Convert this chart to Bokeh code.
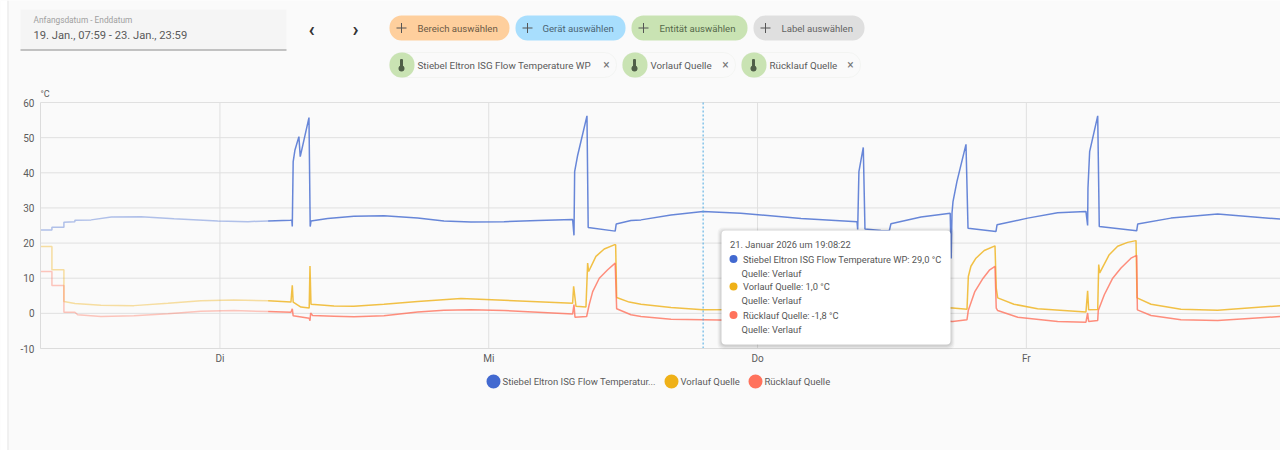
from bokeh.plotting import figure
from bokeh.embed import file_html
from bokeh.resources import INLINE
from bokeh.models import Range1d, FixedTicker, BoxAnnotation, Label

# ---------- data: hours relative to Tue 20 Jan 00:00, values in deg C ----------
series_names = ["Stiebel Eltron ISG Flow Temperature WP", "Vorlauf Quelle", "Rücklauf Quelle"]
series_colors = ["#4269d0", "#efb118", "#ff725c"]
history_start = 4.3   # earlier data are faded long-term statistics

blue_t = [-16.0,-15.0,-15.0,-13.93,-13.93,-12.95,-12.95,-11.5,-9.7,-7.05,-4.1,-0.2,2.5,4.3,6.3,6.42,6.46,6.54,6.7,7.05,7.17,7.95,8.06,8.13,9.62,11.96,14.64,17.65,20.0,22.41,25.36,28.39,31.49,31.61,31.67,31.94,32.77,32.88,35.29,35.38,36.7,37.59,40.27,43.13,46.5,51.88,56.88,56.94,57.05,57.44,57.59,59.02,59.76,59.91,62.59,65.2,65.29,65.36,65.45,65.8,66.61,66.79,69.29,69.38,72.12,74.79,77.32,77.47,77.5,77.65,78.37,78.51,81.85,81.94,84.91,89.08,94.73]
blue_v = [23.7,23.7,24.5,24.5,25.9,26.1,26.5,26.6,27.4,27.5,26.9,26.3,26.1,26.3,26.5,26.6,24.7,43.2,46.5,50.3,44.6,55.7,24.7,26.3,27.0,27.6,27.8,27.1,26.3,26.0,26.1,26.4,26.7,22.2,40.3,45.0,56.2,24.4,23.4,25.4,26.4,26.6,28.0,29.0,28.5,27.0,26.1,23.9,40.3,47.2,24.0,23.6,23.5,25.5,27.4,28.5,15.6,28.5,31.8,37.5,48.1,24.2,23.3,25.2,27.1,28.6,29.0,25.0,35.6,46.0,56.2,24.7,23.5,25.4,27.1,28.3,26.8]

yellow_t = [-16.0,-15.0,-15.0,-13.93,-13.93,-12.95,-10.63,-7.68,-4.64,-1.7,1.25,4.3,6.34,6.46,6.54,7.23,7.97,8.04,8.13,10.18,11.96,14.64,17.65,21.52,25.36,31.49,31.58,31.79,32.68,32.83,32.92,33.57,34.31,35.2,35.33,35.42,36.54,37.59,40.27,43.13,47.41,51.88,56.88,60.8,65.42,66.7,66.82,67.05,67.5,68.24,69.2,69.31,69.44,70.89,73.0,77.32,77.47,77.56,78.37,78.46,78.55,79.4,80.15,81.04,81.79,81.88,83.13,85.8,89.08,94.73]
yellow_v = [19.0,19.0,12.4,12.4,3.4,2.8,2.3,2.2,2.9,3.6,3.8,3.6,3.2,8.0,3.2,1.8,1.5,13.5,2.6,2.1,2.0,2.6,3.4,4.2,3.7,2.9,7.7,2.0,1.8,14.3,11.9,16.2,18.3,19.5,19.5,4.5,3.2,2.6,1.7,1.0,1.1,2.0,1.7,2.0,1.5,1.2,10.5,13.4,15.7,17.9,19.2,7.2,4.4,2.6,1.3,0.4,6.4,1.0,1.1,13.9,11.5,16.7,19.1,20.2,20.7,4.4,2.6,1.2,0.9,2.2]

red_t = [-16.0,-15.0,-15.0,-13.93,-13.93,-12.95,-12.7,-10.63,-7.68,-4.64,-1.7,1.25,4.3,6.34,6.46,6.54,7.97,8.04,8.1,8.27,10.18,11.96,14.64,17.65,20.0,22.41,25.36,31.49,31.61,31.7,32.74,32.97,33.28,33.87,34.62,35.29,35.42,36.7,37.59,40.27,43.13,47.41,51.88,56.88,60.8,65.42,66.7,66.82,67.4,68.14,68.73,69.2,69.31,69.44,71.23,74.79,77.32,77.47,77.56,78.37,78.42,78.96,79.71,80.45,81.34,81.85,81.91,83.13,85.8,89.08,94.73]
red_v = [11.9,11.9,7.9,7.9,0.3,0.3,-0.4,-0.9,-0.7,-0.1,0.6,0.8,0.5,0.3,1.3,-0.7,-1.4,-2.1,0.1,-0.6,-0.8,-1.0,-0.7,0.4,0.9,1.0,0.8,-0.2,2.5,-1.1,-0.9,2.5,6.2,10.0,12.4,14.3,1.3,-0.4,-0.9,-1.7,-1.8,-2.0,-1.1,-1.6,-1.5,-2.3,-1.8,0.9,6.2,10.0,12.4,13.4,1.5,0.8,-1.1,-2.3,-2.5,0.1,-2.3,-2.0,0.8,5.3,10.0,12.9,15.7,16.5,1.0,-0.6,-1.8,-2.0,-0.9]

day_ticks = [0, 24, 48, 72]
day_labels = ["Di", "Mi", "Do", "Fr"]
y_ticks = [-10, 0, 10, 20, 30, 40, 50, 60]
cursor_time = 43.14

date_caption = "Anfangsdatum - Enddatum"
date_text = "19. Jan., 07:59 - 23. Jan., 23:59"
pick_labels = ["Bereich auswählen", "Gerät auswählen", "Entität auswählen", "Label auswählen"]
tooltip_title = "21. Januar 2026 um 19:08:22"
tooltip_rows = ["Stiebel Eltron ISG Flow Temperature WP: 29,0 °C", "Vorlauf Quelle: 1,0 °C", "Rücklauf Quelle: -1,8 °C"]
tooltip_source = "Quelle: Verlauf"
legend_labels = ["Stiebel Eltron ISG Flow Temperatur...", "Vorlauf Quelle", "Rücklauf Quelle"]

# ---------- styles ----------
BG = "#fafafa"
TXT = "#5c5c5c"
GRID = "#e0e0e0"
# The plot area fills the page; the chart's own window inside it runs from
# x_start..x_end and -10..60, and axes and grid lines are bounded to that window.
x_start, x_end = -16.02, 94.69
y_low, y_high = -10, 60
px_x = (x_end - x_start) / 1240
px_y = (y_high - y_low) / 246

p = figure(width=1280, height=450, output_backend="svg", toolbar_location=None,
           x_range=Range1d(x_start - 40 * px_x, x_end),
           y_range=Range1d(y_low - 102 * px_y, y_high + 102 * px_y),
           min_border=0, min_border_left=0, min_border_right=0, min_border_top=0, min_border_bottom=0,
           background_fill_color=BG, border_fill_color=BG, outline_line_color=None)

p.xaxis.ticker = FixedTicker(ticks=day_ticks)
p.xaxis.major_label_overrides = dict(zip(day_ticks, day_labels))
p.yaxis.ticker = FixedTicker(ticks=y_ticks)
p.yaxis.major_label_overrides = {t: str(t) for t in y_ticks}
p.xaxis.fixed_location = y_low
p.yaxis.fixed_location = x_start
p.xaxis.bounds = (x_start, x_end)
p.yaxis.bounds = (y_low, y_high)
for ax in (p.xaxis[0], p.yaxis[0]):
    ax.major_tick_line_color = None
    ax.minor_tick_line_color = None
    ax.axis_line_color = "#dcdcdc"
    ax.major_label_text_font = "Roboto"
    ax.major_label_text_font_size = "10px"
    ax.major_label_text_color = TXT
p.xaxis[0].major_label_standoff = -2
p.yaxis[0].major_label_standoff = 0
p.grid.visible = False
p.segment(day_ticks, [y_low] * len(day_ticks), day_ticks, [y_high] * len(day_ticks), line_color=GRID, line_width=1, level="underlay")
p.segment([x_start] * len(y_ticks), y_ticks, [x_end] * len(y_ticks), y_ticks, line_color=GRID, line_width=1, level="underlay")

for t, v, c in zip((blue_t, yellow_t, red_t), (blue_v, yellow_v, red_v), series_colors):
    old_t = [a for a in t if a <= history_start]
    old_v = v[:len(old_t)]
    new_t = t[len(old_t) - 1:]
    new_v = v[len(old_t) - 1:]
    p.line(old_t, old_v, line_color=c, line_width=1.5, line_alpha=0.4)
    p.line(new_t, new_v, line_color=c, line_width=1.5, line_alpha=0.8)

p.segment([cursor_time], [y_low], [cursor_time], [y_high], line_color="#4aa8e0", line_width=1, line_dash="2 2")

def box(l, r, t, b, fill, alpha=1.0, radius=0, line=None):
    p.add_layout(BoxAnnotation(left=l, right=r, top=t, bottom=b,
                               left_units="canvas", right_units="canvas", top_units="canvas", bottom_units="canvas",
                               fill_color=fill, fill_alpha=alpha, line_color=line, line_width=1,
                               border_radius=radius))

def txt(x, y, s, size="10px", color=TXT, align="left", font="Roboto", style="normal"):
    p.add_layout(Label(x=x, y=y, x_units="canvas", y_units="canvas", text=s, text_font=font,
                       text_font_size=size, text_color=color, text_baseline="middle", text_align=align,
                       text_font_style=style))

box(0, 7, 0, 450, "#ffffff")
box(7, 8, 0, 450, "#e6e6e6")
txt(40, 93, "°C", "9px")

# ---------- top bar ----------
box(20, 286, 9, 49, "#f5f5f5")
box(20, 286, 49, 50, "#8a8a8a")
txt(33, 19.5, date_caption, "8.3px", "#a0a0a0")
txt(33, 34.5, date_text, "11.2px", "#5a5a5a")
txt(311, 28.5, "‹", "20px", "#333333", "center", style="bold")
txt(355, 28.5, "›", "20px", "#333333", "center", style="bold")

pick_left = [389, 515, 631, 753]
pick_right = [509, 625, 747, 864]
pick_fill = ["#fecf9d", "#a8defd", "#c9e3b3", "#dfdfdf"]
pick_text = [417, 542, 659, 781]
pick_col = ["#6b5a45", "#4a6473", "#55694a", "#636363"]
for l, r, c, tx, s, col in zip(pick_left, pick_right, pick_fill, pick_text, pick_labels, pick_col):
    box(l, r, 15, 40, c, radius=12)
    box(l + 7, l + 17, 27, 28, "#555555")
    box(l + 11.5, l + 12.5, 22.5, 32.5, "#555555")
    txt(tx, 27.5, s, "9.6px", col)

chip_left = [389, 622, 741]
chip_right = [616, 735, 860]
for l, r, s in zip(chip_left, chip_right, series_names):
    box(l, r, 52, 77, BG, radius=12, line="#e6e8e0")
    box(l, l + 25, 52, 77, "#c9e3b3", radius=12)
    box(l + 10.5, l + 13.5, 58.5, 68, "#4f5f48", radius=1)
    box(l + 9, l + 15, 65, 71, "#4f5f48", radius=3)
    txt(l + 28, 64.5, s, "9.8px", "#5a5a5a")
    txt(r - 10, 64.5, "×", "12px", "#777777", "center")

# ---------- tooltip ----------
for grow, alpha in ((4, 0.03), (3, 0.04), (2, 0.05), (1, 0.06)):
    box(721 - grow, 950 + grow, 230 - grow + 1, 344 + grow + 1, "#000000", alpha, 5)
box(721, 950, 230, 344, "#ffffff", radius=4)
txt(729.5, 244, tooltip_title, "9.3px", "#565656")
tip_y = [258.5, 286, 314.5]
for y, s, c in zip(tip_y, tooltip_rows, series_colors):
    box(729, 737, y - 4, y + 4, c, radius=4)
    txt(742.5, y, s, "9.3px", "#565656")
    txt(741, y + 14, tooltip_source, "9.3px", "#565656")

# ---------- legend ----------
leg_dot = [493, 671, 755]
leg_text = [502, 680, 764]
for x, tx, s, c in zip(leg_dot, leg_text, legend_labels, series_colors):
    box(x - 7, x + 7, 374, 388, c, radius=7)
    txt(tx, 381, s, "9.5px", "#5a5a5a")

open("out.html", "w").write(file_html(p, INLINE))
